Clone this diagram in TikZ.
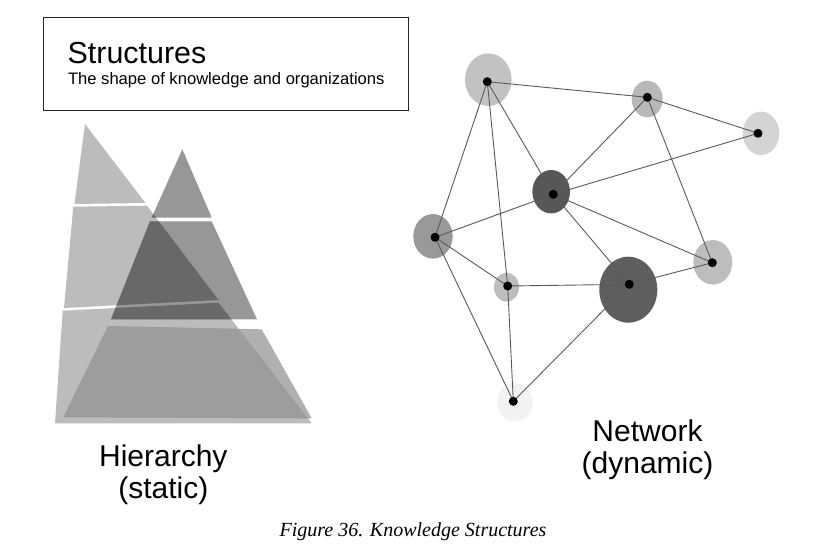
\documentclass[tikz,border=0pt]{standalone}
\usepackage{fontspec}
\usetikzlibrary{shapes.geometric}
\setmainfont{Liberation Sans}
\newfontfamily\capfont{Liberation Serif}
\definecolor{bcol}{HTML}{BCBCBC}
\definecolor{scol}{HTML}{979797}
\definecolor{bscol}{HTML}{686868}
\definecolor{tcol}{HTML}{B0B0B0}
\definecolor{btcol}{HTML}{9D9D9D}
\definecolor{edgecol}{HTML}{5A5A5A}
\pgfdeclarelayer{halolayer}
\pgfdeclarelayer{edgelayer}
\pgfsetlayers{halolayer,edgelayer,main}
\begin{document}
\begin{tikzpicture}[x=1pt,y=-1pt,
  halo/.style={ellipse, draw=none, inner sep=0pt},
  dotnode/.style={circle, fill=black, inner sep=0pt, minimum size=9pt},
  edge/.style={draw=edgecol, line width=0.9pt},
  bigtext/.style={inner sep=0pt, font=\fontsize{30}{32}\selectfont, align=center},
]
\useasboundingbox (0,0) rectangle (821,549);
% ---------- title box ----------
\node[draw=black!85, line width=0.9pt, rectangle, anchor=north west, minimum width=364.4pt, minimum height=92.7pt, inner sep=0pt] (box) at (43.3,17.3) {};
\node[anchor=base west, inner sep=0pt, font=\fontsize{30.4}{30}\selectfont] (title) at (67.5,63.3) {Structures};
\node[anchor=base west, inner sep=0pt, font=\fontsize{16.6}{18}\selectfont] (subtitle) at (67.8,84.5) {The shape of knowledge and organizations};
% ---------- hierarchy ----------
\def\Bone{(85,124) -- (74.5,204) -- (145.5,203) -- cycle}
\def\Btwo{(73.3,206.7) -- (147,205.7) -- (218.5,300) -- (64,308) -- cycle}
\def\Bthree{(62.7,310.7) -- (218.5,302.7) -- (311.7,423.3) -- (55,423.3) -- cycle}
\def\Sone{(182.3,149.3) -- (211.7,217.5) -- (151.7,217.5) -- cycle}
\def\Stwo{(150,221.3) -- (211.7,221.3) -- (257,319.3) -- (111,319.3) -- cycle}
\def\Sthree{(108,326) -- (261.7,329.3) -- (311.7,418.3) -- (63.3,417.3) -- cycle}
\fill[bcol] \Bone;
\fill[bcol] \Btwo;
\fill[bcol] \Bthree;
\fill[scol] \Sone;
\fill[scol] \Stwo;
\fill[tcol] \Sthree;
\begin{scope}
  \clip \Bone \Btwo \Bthree;
  \fill[bscol] \Sone;
  \fill[bscol] \Stwo;
  \fill[btcol] \Sthree;
\end{scope}
\node[bigtext, anchor=base] (hier) at (163.3,498.5) {Hierarchy\\(static)};
% ---------- network ----------
\begin{pgfonlayer}{halolayer}
\node[halo, fill=black!24, minimum width=46.6pt, minimum height=52.6pt] (h1) at (488.3,79.7) {};
\node[halo, fill=black!28, minimum width=31pt, minimum height=36.6pt] (h2) at (647.2,99) {};
\node[halo, fill=black!17, minimum width=36.6pt, minimum height=43.4pt] (h3) at (761,133.3) {};
\node[halo, fill=black!66, minimum width=37.6pt, minimum height=43.4pt] (h4) at (551.2,191.7) {};
\node[halo, fill=black!40, minimum width=39.4pt, minimum height=44.6pt] (h5) at (433,236.3) {};
\node[halo, fill=black!26, minimum width=39pt, minimum height=44.6pt] (h6) at (712.8,262.3) {};
\node[halo, fill=black!26, minimum width=25pt, minimum height=29pt] (h7) at (506.5,287.2) {};
\node[halo, fill=black!63, minimum width=58pt, minimum height=66pt] (h8) at (628.3,289.7) {};
\node[halo, fill=black!5, minimum width=35.4pt, minimum height=38pt] (h9) at (515,402.3) {};
\end{pgfonlayer}
\node[dotnode] (n1) at (487.3,81.7) {};
\node[dotnode] (n2) at (647.3,97.3) {};
\node[dotnode] (n3) at (758,133.3) {};
\node[dotnode] (n4) at (553.3,194.3) {};
\node[dotnode] (n5) at (435,237.3) {};
\node[dotnode] (n6) at (712.3,262.7) {};
\node[dotnode] (n7) at (507.7,286) {};
\node[dotnode] (n8) at (629.3,284.3) {};
\node[dotnode] (n9) at (513.3,401.3) {};
\begin{pgfonlayer}{edgelayer}
\foreach \a/\b in {n1/n2, n1/n5, n1/n7, n1/n4, n2/n3, n2/n4, n2/n6, n3/n4, n4/n5, n4/n6, n4/n8, n5/n7, n5/n9, n7/n8, n7/n9, n8/n6, n8/n9}
  \draw[edge] (\a.center) -- (\b.center);
\end{pgfonlayer}
\node[bigtext, anchor=base] (net) at (647.5,473.7) {Network\\(dynamic)};
% ---------- caption ----------
\node[anchor=base, inner sep=0pt, font=\capfont\itshape\fontsize{20}{22}\selectfont] (caption) at (413,536) {Figure 36. Knowledge Structures};
\end{tikzpicture}
\end{document}
